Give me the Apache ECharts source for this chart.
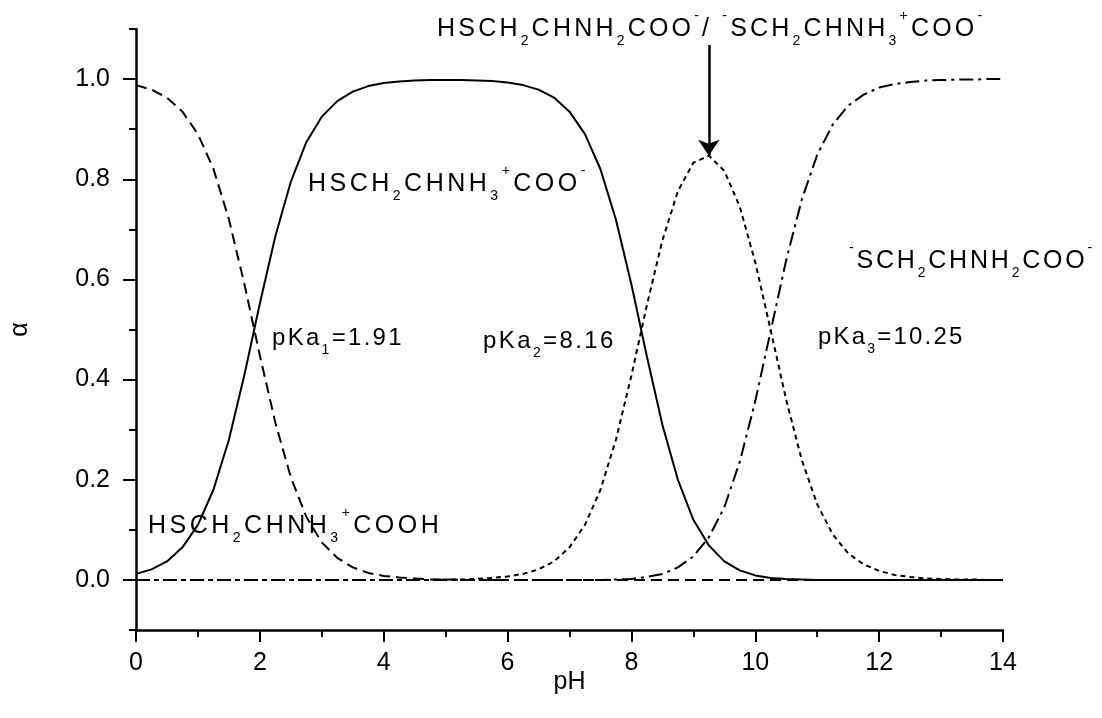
<!DOCTYPE html>
<html>
<head>
<meta charset="utf-8">
<title>Cysteine species distribution</title>
<script src="https://cdn.jsdelivr.net/npm/echarts@6/dist/echarts.min.js"></script>
<style>
  html, body { margin: 0; padding: 0; background: #fff; }
  #chart { width: 1102px; height: 718px; }
</style>
</head>
<body>
<div id="chart"></div>
<script>
// pH grid (0.25 steps)
const pH = [0, 0.25, 0.5, 0.75, 1, 1.25, 1.5, 1.75, 2, 2.25, 2.5, 2.75, 3, 3.25, 3.5, 3.75,
  4, 4.25, 4.5, 4.75, 5, 5.25, 5.5, 5.75, 6, 6.25, 6.5, 6.75, 7, 7.25, 7.5, 7.75,
  8, 8.25, 8.5, 8.75, 9, 9.25, 9.5, 9.75, 10, 10.25, 10.5, 10.75, 11, 11.25, 11.5, 11.75,
  12, 12.25, 12.5, 12.75, 13, 13.25, 13.5, 13.75, 14];

// HSCH2CHNH3+COOH (dashed)
const alphaH3A = [0.988, 0.979, 0.963, 0.935, 0.890, 0.821, 0.720, 0.591, 0.448, 0.314, 0.205, 0.126,
  0.075, 0.044, 0.025, 0.014, 0.008, 0.005, 0.003, 0.001, 0.001, 0, 0, 0,
  0, 0, 0, 0, 0, 0, 0, 0, 0, 0, 0, 0, 0, 0, 0, 0, 0, 0, 0, 0, 0, 0, 0, 0,
  0, 0, 0, 0, 0, 0, 0, 0, 0];

// HSCH2CHNH3+COO- (solid)
const alphaH2A = [0.012, 0.021, 0.037, 0.065, 0.110, 0.180, 0.280, 0.409, 0.552, 0.686, 0.795, 0.874,
  0.925, 0.956, 0.975, 0.986, 0.992, 0.995, 0.997, 0.998, 0.998, 0.998, 0.997, 0.996,
  0.993, 0.988, 0.979, 0.963, 0.935, 0.890, 0.820, 0.719, 0.590, 0.446, 0.310, 0.200,
  0.120, 0.069, 0.037, 0.019, 0.009, 0.004, 0.002, 0.001, 0, 0, 0, 0,
  0, 0, 0, 0, 0, 0, 0, 0, 0];

// HSCH2CHNH2COO- / -SCH2CHNH3+COO- (dotted)
const alphaHA = [0, 0, 0, 0, 0, 0, 0, 0, 0, 0, 0, 0, 0, 0, 0, 0, 0, 0, 0, 0,
  0.001, 0.001, 0.002, 0.004, 0.007, 0.012, 0.021, 0.037, 0.065, 0.110, 0.180, 0.280,
  0.408, 0.549, 0.678, 0.776, 0.833, 0.847, 0.817, 0.745, 0.634, 0.498, 0.359, 0.240,
  0.151, 0.091, 0.053, 0.031, 0.018, 0.010, 0.006, 0.003, 0.002, 0.001, 0.001, 0, 0];

// -SCH2CHNH2COO- (dash-dot)
const alphaA = [0, 0, 0, 0, 0, 0, 0, 0, 0, 0, 0, 0, 0, 0, 0, 0, 0, 0, 0, 0, 0, 0, 0, 0, 0, 0, 0, 0,
  0, 0, 0, 0.001, 0.002, 0.006, 0.012, 0.025, 0.047, 0.085, 0.145, 0.236, 0.357, 0.498,
  0.639, 0.759, 0.849, 0.909, 0.947, 0.969, 0.983, 0.990, 0.994, 0.997, 0.998, 0.999,
  0.999, 1.000, 1.000];

const yMajorTicks = [0, 0.2, 0.4, 0.6, 0.8, 1.0];
const yMinorTicks = [-0.1, 0.1, 0.3, 0.5, 0.7, 0.9, 1.1];

const FONT = '"Liberation Sans", Arial, sans-serif';

function pairs(ys) { return pH.map((x, i) => [x, ys[i]]); }

// arrow points at the maximum of the dotted curve
let peak = 0;
alphaHA.forEach((v, i) => { if (v > alphaHA[peak]) peak = i; });

// rich-text styles for chemical formulas: m = main, s = subscript, p = superscript
function richStyles(size, spacing) {
  const small = Math.round(size * 0.58);
  const pad = [0, spacing, 0, 0];
  return {
    m: { fontSize: size, fontFamily: FONT, fill: '#000', lineHeight: size + small, height: size + small, verticalAlign: 'middle', padding: pad },
    s: { fontSize: small, fontFamily: FONT, fill: '#000', lineHeight: small, height: small, verticalAlign: 'bottom', padding: pad },
    p: { fontSize: small, fontFamily: FONT, fill: '#000', lineHeight: small, height: small, verticalAlign: 'top', padding: pad }
  };
}

// parts: [style, text] pairs; every character becomes its own token so it can be spaced out
function formula(x, y, parts, size, spacing) {
  const text = parts.map(([st, str]) => str.split('').map(ch => '{' + st + '|' + ch + '}').join('')).join('');
  return {
    type: 'text', x: x, y: y, silent: true,
    style: { text: text, rich: richStyles(size, spacing), fill: '#000', align: 'left', verticalAlign: 'middle', font: size + 'px ' + FONT }
  };
}

const labels = [
  formula(437, 29, [['m', 'HSCH'], ['s', '2'], ['m', 'CHNH'], ['s', '2'], ['m', 'COO'], ['p', '-'], ['m', '/ '],
    ['p', '-'], ['m', 'SCH'], ['s', '2'], ['m', 'CHNH'], ['s', '3'], ['p', '+'], ['m', 'COO'], ['p', '-']], 25, 3.2),
  formula(308, 184, [['m', 'HSCH'], ['s', '2'], ['m', 'CHNH'], ['s', '3'], ['p', '+'], ['m', 'COO'], ['p', '-']], 25, 3.5),
  formula(849, 261, [['p', '-'], ['m', 'SCH'], ['s', '2'], ['m', 'CHNH'], ['s', '2'], ['m', 'COO'], ['p', '-']], 25, 2.8),
  formula(148, 526, [['m', 'HSCH'], ['s', '2'], ['m', 'CHNH'], ['s', '3'], ['p', '+'], ['m', 'COOH']], 25, 3.5),
  formula(272, 338, [['m', 'pKa'], ['s', '1'], ['m', '=1.91']], 24, 2.3),
  formula(483, 341, [['m', 'pKa'], ['s', '2'], ['m', '=8.16']], 24, 2.4),
  formula(818, 337, [['m', 'pKa'], ['s', '3'], ['m', '=10.25']], 24, 2.2)
];

function curve(name, ys, dash) {
  return {
    name: name, type: 'line', data: pairs(ys), symbol: 'none', smooth: false,
    lineStyle: { color: '#000', width: 2, type: dash },
    emphasis: { disabled: true }, z: 3
  };
}

const series = [
  curve('HSCH2CHNH3+COOH', alphaH3A, [11, 6]),
  curve('HSCH2CHNH3+COO-', alphaH2A, 'solid'),
  curve('HSCH2CHNH2COO-/-SCH2CHNH3+COO-', alphaHA, [5, 4]),
  curve('-SCH2CHNH2COO-', alphaA, [14, 5, 3, 5])
];
series[2].markLine = {
  silent: true, animation: false,
  symbol: ['none', 'arrow'], symbolSize: 16,
  label: { show: false },
  lineStyle: { color: '#000', width: 2.5, type: 'solid' },
  emphasis: { disabled: true },
  data: [[{ coord: [pH[peak], 1.068] }, { coord: [pH[peak], alphaHA[peak]] }]]
};

const chart = echarts.init(document.getElementById('chart'), null, { renderer: 'canvas' });
chart.setOption({
  animation: false,
  backgroundColor: '#fff',
  grid: { left: 135, right: 99, top: 29, bottom: 88, containLabel: false },
  xAxis: {
    type: 'value', min: 0, max: 14, interval: 2,
    name: 'pH', nameLocation: 'middle', nameGap: 40, nameMoveOverlap: false,
    nameTextStyle: { fontSize: 25, fontFamily: FONT, color: '#000' },
    axisLine: { show: true, onZero: false, lineStyle: { color: '#000', width: 2.5 } },
    axisTick: { show: true, inside: false, length: 12, lineStyle: { color: '#000', width: 2 } },
    minorTick: { show: true, splitNumber: 2, length: 7, lineStyle: { color: '#000', width: 2 } },
    axisLabel: { fontSize: 25, fontFamily: FONT, color: '#000', margin: 21 },
    splitLine: { show: false }, minorSplitLine: { show: false }
  },
  yAxis: [{
    type: 'value', min: -0.1, max: 1.1, position: 'left',
    name: 'α', nameLocation: 'middle', nameGap: 103,
    nameTextStyle: { fontSize: 25, fontFamily: FONT, color: '#000' },
    axisLine: { show: true, onZero: false, lineStyle: { color: '#000', width: 2.5 } },
    axisTick: { show: true, inside: false, length: 13, customValues: yMajorTicks, lineStyle: { color: '#000', width: 2 } },
    axisLabel: { fontSize: 25, fontFamily: FONT, color: '#000', margin: 26, customValues: yMajorTicks,
      formatter: v => v.toFixed(1) },
    splitLine: { show: false }
  }, {
    type: 'value', min: -0.1, max: 1.1, position: 'left', offset: 0,
    axisLine: { show: false },
    axisTick: { show: true, inside: false, length: 7, customValues: yMinorTicks, lineStyle: { color: '#000', width: 2 } },
    axisLabel: { show: false },
    splitLine: { show: false }
  }],
  series: series,
  graphic: labels
});
</script>
</body>
</html>
